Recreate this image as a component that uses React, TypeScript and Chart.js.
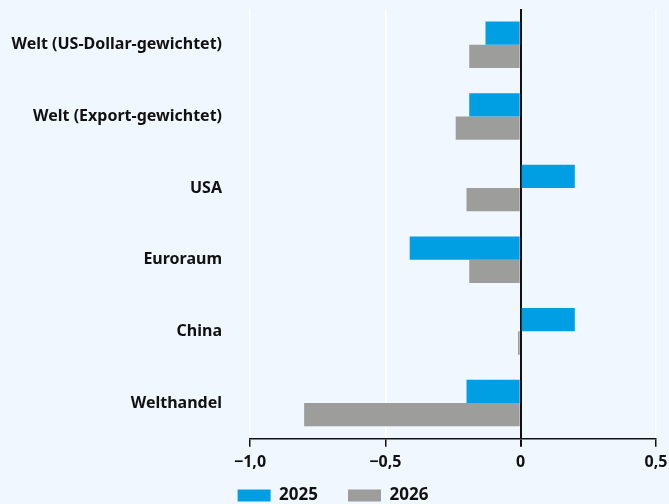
import React, { useEffect, useRef } from "react";
import { Chart, registerables } from "chart.js";

Chart.register(...registerables);

const categories = [
  "Welt (US-Dollar-gewichtet)",
  "Welt (Export-gewichtet)",
  "USA",
  "Euroraum",
  "China",
  "Welthandel",
];
const values2025 = [-0.13, -0.19, 0.2, -0.41, 0.2, -0.2];
const values2026 = [-0.19, -0.24, -0.2, -0.19, -0.01, -0.8];
const tickValues = [-1.0, -0.5, 0, 0.5];

const bgPlugin = {
  id: "bg",
  beforeDraw(chart: any) {
    const { ctx, width, height } = chart;
    ctx.save();
    ctx.fillStyle = "#f0f7fe";
    ctx.fillRect(0, 0, width, height);
    ctx.restore();
  },
};

// legend keeps a wide horizontal item spacing, but is lifted so that its
// vertical padding does not eat into the plot
const legendShift = {
  id: "legendShift",
  afterLayout(chart: any) {
    const lg = chart.legend;
    if (lg) {
      lg.top = lg.bottom - 47;
    }
  },
};

function fmt(v: number): string {
  if (v === 0) return "0";
  const s = Math.abs(v).toFixed(1).replace(".", ",");
  return (v < 0 ? "\u2212" : "") + s;
}

export default function App() {
  const ref = useRef<HTMLCanvasElement>(null);
  useEffect(() => {
    document.body.style.margin = "0";
    document.body.style.background = "#f0f7fe";
    const font = { family: "'Noto Sans', sans-serif", weight: "bold" as const, size: 16 };
    const legendFont = { family: "'Noto Sans', sans-serif", weight: "bold" as const, size: 17 };
    const chart = new Chart(ref.current!, {
      type: "bar",
      data: {
        labels: categories,
        datasets: [
          { label: "2025", data: values2025, backgroundColor: "#009fe3", categoryPercentage: 0.65, barPercentage: 1 },
          { label: "2026", data: values2026, backgroundColor: "#9d9d9c", categoryPercentage: 0.65, barPercentage: 1 },
        ],
      },
      options: {
        indexAxis: "y",
        animation: false,
        responsive: false,
        layout: { padding: { top: 9, right: 13, left: 10, bottom: 0 } },
        plugins: {
          legend: {
            position: "bottom",
            maxHeight: 26,
            labels: { boxWidth: 33, boxHeight: 12, color: "#111", font: legendFont, padding: 30 },
          },
          tooltip: { enabled: false },
        },
        scales: {
          x: {
            min: -1,
            max: 0.5,
            afterBuildTicks(axis: any) {
              axis.ticks = tickValues.map((v) => ({ value: v }));
            },
            afterFit(axis: any) {
              axis.paddingLeft = 0;
              axis.paddingRight = 0;
            },
            grid: {
              color: (c: any) => (c.tick && c.tick.value === 0 ? "#111" : "#ffffff"),
              lineWidth: (c: any) => (c.tick && c.tick.value === 0 ? 2 : 1.5),
              tickColor: "#111",
              tickLength: 8,
            },
            border: { display: true, color: "#111", width: 1.5 },
            ticks: {
              color: "#111",
              font,
              padding: 6,
              callback: (v: any) => fmt(Number(v)),
            },
          },
          y: {
            afterFit(axis: any) {
              axis.paddingTop = 0;
              axis.paddingBottom = 0;
              axis.width = 240;
            },
            grid: { display: false, drawTicks: false, tickLength: 0 },
            border: { display: false },
            ticks: { color: "#111", font, padding: 28 },
          },
        },
      },
      plugins: [bgPlugin, legendShift],
    });
    return () => chart.destroy();
  }, []);
  return <canvas ref={ref} width={669} height={504} style={{ display: "block" }} />;
}
